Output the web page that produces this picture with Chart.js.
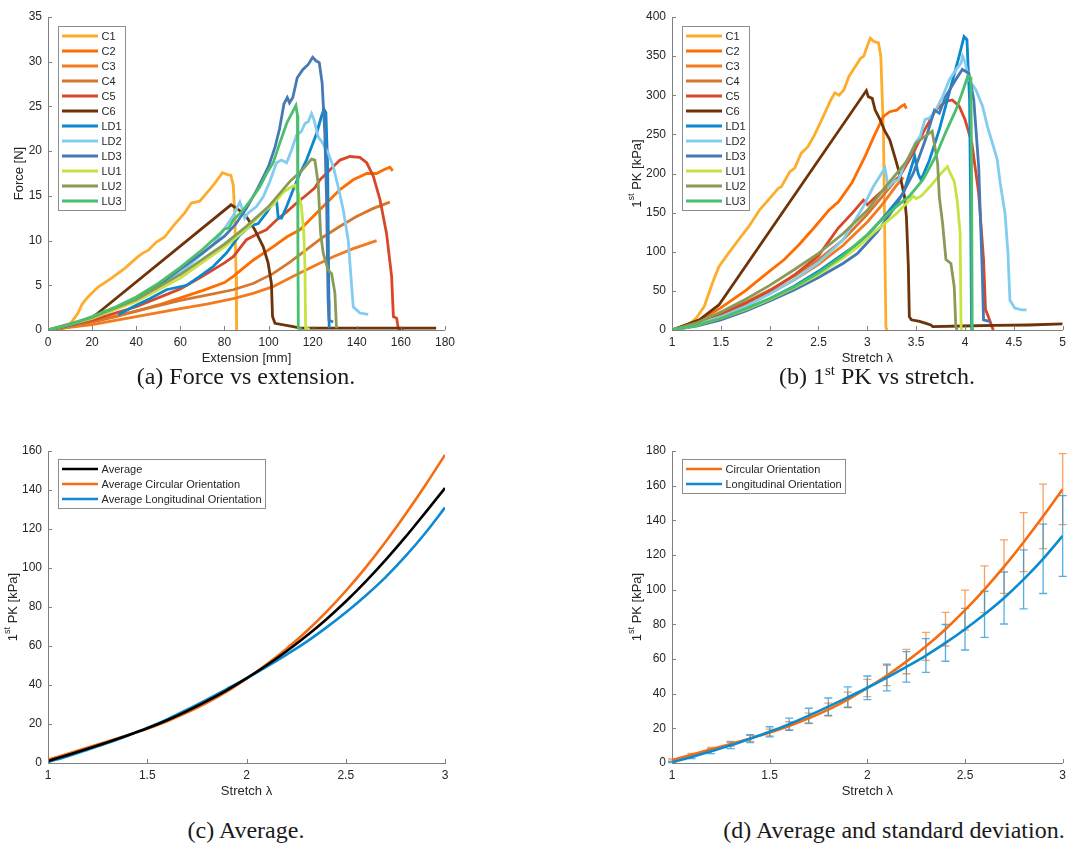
<!DOCTYPE html>
<html>
<head>
<meta charset="utf-8">
<script src="https://cdn.jsdelivr.net/npm/chart.js@4.4.1/dist/chart.umd.min.js"></script>
<style>
  html, body { margin: 0; padding: 0; background: #fff; }
  body { position: relative; width: 1071px; height: 849px; overflow: hidden; }
  canvas { position: absolute; }
  .cap {
    position: absolute; white-space: nowrap; transform: translateX(-50%);
    font-family: "Liberation Serif", "DejaVu Serif", serif; font-size: 24px;
    line-height: 28px; color: #1a1a1a;
  }
  .cap sup { font-size: 15px; line-height: 0; }
</style>
</head>
<body>
<canvas id="chartA" width="460" height="370" style="left:0;top:0"></canvas>
<canvas id="chartB" width="471" height="370" style="left:600px;top:0"></canvas>
<canvas id="chartC" width="460" height="373" style="left:0;top:430px"></canvas>
<canvas id="chartD" width="471" height="373" style="left:600px;top:430px"></canvas>

<div class="cap" style="left:246px;top:362px">(a) Force vs extension.</div>
<div class="cap" style="left:877px;top:362px">(b) 1<sup>st</sup> PK vs stretch.</div>
<div class="cap" style="left:246px;top:816px">(c) Average.</div>
<div class="cap" style="left:894px;top:816px">(d) Average and standard deviation.</div>

<script>
// ---- data -------------------------------------------------------------
const sampleNames = ['C1', 'C2', 'C3', 'C4', 'C5', 'C6', 'LD1', 'LD2', 'LD3', 'LU1', 'LU2', 'LU3'];

// (a) force [N] vs extension [mm], pairs [extension, force]
const forceC1 = [[0,0],[6,0.1],[9.1,0.4],[11,1],[13.6,1.9],[15.5,2.9],[18.1,3.7],[22.7,4.8],[28.8,5.8],[34.8,6.9],[40.8,8.2],[43,8.6],[45.4,8.9],[49,9.8],[52.9,10.4],[57,11.7],[62,13.1],[65,14.2],[68.8,14.4],[72.6,15.5],[75.6,16.4],[79.1,17.6],[81.7,17.35],[82.9,17.3],[84,16.2],[84.7,12.7],[85.3,6],[85.5,0]];
const forceC2 = [[0,0],[10,0.35],[20,0.9],[30,1.45],[40,2.1],[50,2.8],[60,3.6],[70,4.4],[80,5.3],[84,6],[93,7.8],[102,9.3],[108.2,10.4],[114.2,11.2],[120.2,12.7],[126.3,14.2],[132.4,15.7],[138.4,16.8],[144.5,17.5],[149,17.5],[152,17.9],[155,18.2],[156.3,17.8]];
const forceC3 = [[0,0],[20,0.6],[40,1.5],[60,2.4],[72,2.9],[84,3.5],[93,4.1],[102,4.85],[111.2,6],[120.2,7.1],[129.3,8.2],[138.4,9.1],[149,10]];
const forceC4 = [[0,0],[20,0.9],[40,2.1],[60,3.3],[72,3.9],[84,4.5],[93,5.2],[102,6.3],[109.7,7.6],[117.2,9],[124.8,10.4],[132.4,11.6],[139.9,12.7],[147.5,13.6],[155,14.3]];
const forceC5 = [[0,0],[20,1.1],[40,2.6],[60,4.6],[70,6],[80,7.5],[84,8.2],[90,10.1],[95.3,10.8],[99,11.2],[103.6,12.3],[108.2,13.2],[112.7,14.2],[117.2,15.1],[121,15.9],[123.3,16.8],[127.8,17.9],[132.4,19],[136.9,19.4],[141.4,19.3],[144.5,18.7],[147.5,17.2],[150.5,14.6],[153.5,10.8],[155.8,6],[156.6,1.5],[158.1,1.3],[158.8,0.2],[161,0]];
const forceC6 = [[0,0],[10,0.6],[20,1.4],[22.7,1.9],[83,14],[86.2,13.5],[89.9,12.7],[93.8,11.2],[97.6,9.3],[99.8,7.5],[101.3,5.2],[101.8,1.5],[102.9,0.75],[111.2,0.37],[114.2,0.2],[176,0.2]];
const forceLD1 = [[32,1.7],[38.6,2.6],[46.1,3.5],[53.7,4.5],[62.8,5],[68.8,6],[74.9,7.1],[80.9,8.6],[86.9,10.6],[91.5,11.6],[95.3,11.9],[99,13.1],[102,14.2],[103.6,14.6],[104.4,12.5],[105.9,12.5],[108.2,13.8],[111.2,15.7],[114.2,17.5],[117.2,19],[119.5,20.5],[121.8,22],[124,23.9],[125.1,24.7],[126,24.3],[126.8,18.3],[127.2,7.1],[127.5,0.2]];
const forceLD2 = [[0,0],[20,1.4],[40,3.5],[60,6.4],[75,9.6],[80,11.3],[84,12.8],[87,14.3],[88,13.6],[89.2,12.5],[90.8,13.1],[94.5,13.8],[97.6,14.9],[100.6,16.6],[103.6,18.7],[105.9,19],[108.2,18.7],[110.4,20.1],[112.7,21.8],[114.9,22.2],[116.5,23.1],[118,23.3],[119.5,24.2],[120.6,23.5],[122.5,21.6],[124,21.1],[127,19.8],[129.3,18.3],[131.6,16],[133.9,13.4],[136.1,10.1],[137.6,5.2],[138.4,2.6],[141.4,1.9],[145.2,1.75]];
const forceLD3 = [[0,0],[10,0.55],[20,1.35],[30,2.3],[40,3.5],[50,5],[60,6.8],[70,8.6],[80,10.5],[85,11.8],[90,13.6],[95,15.8],[100,18.3],[103,20.5],[105,22.5],[107,25.3],[108.5,26],[109.5,25.4],[111,26],[113,28.2],[115.5,29.1],[118,29.7],[120,30.5],[121.5,30.1],[123,29.9],[124.3,27.6],[125.5,22],[126.3,14.6],[127,3.4],[127.4,1.1],[129.3,0.9]];
const forceLU1 = [[0,0],[20,1.3],[40,3.2],[60,5.8],[80,9.3],[90,11.3],[97.6,13.2],[102.1,14],[106.6,15.4],[109.7,15.9],[112,16.2],[113.4,15.3],[114.9,13.8],[116,10.8],[116.5,7.1],[116.8,0.2],[118.7,0.1]];
const forceLU2 = [[0,0],[20,1.4],[40,3.4],[60,6.2],[80,9.6],[90,11.6],[100,13.8],[110,16.7],[115,17.8],[119.5,19.1],[121,19],[122.5,16.4],[123.6,10.8],[124.8,8.6],[127,6.7],[128.6,6.3],[130.1,4.1],[130.8,0.2]];
const forceLU3 = [[0,0],[10,0.6],[20,1.5],[30,2.5],[40,3.7],[50,5.2],[60,7],[70,9],[78,10.8],[80,11.3],[82,11.4],[84,12.3],[88.5,13.4],[93,14.9],[96,16],[99.1,17.5],[102.1,18.7],[105.1,20.9],[108.2,23.1],[110.5,24.2],[112.4,25.1],[113.1,24],[113.3,10],[113.5,0.2],[115,0.1]];

// (b) 1st PK [kPa] vs stretch, pairs [stretch, PK]
const pkC1 = [[1,0],[1.145,4],[1.246,15],[1.33,30],[1.414,60],[1.48,81],[1.566,96],[1.68,115],[1.785,132],[1.9,154],[2.02,171],[2.088,181],[2.12,183],[2.205,202],[2.256,207],[2.323,226],[2.39,234],[2.458,249],[2.542,271],[2.626,294],[2.667,303],[2.71,300],[2.761,307],[2.811,324],[2.879,337],[2.929,347],[2.963,350],[2.997,362],[3.03,373],[3.064,369],[3.114,367],[3.138,350],[3.165,252],[3.19,4],[3.2,0]];
const pkC2 = [[1,0],[1.25,10],[1.495,28],[1.75,50],[1.967,72],[2.15,90],[2.3,109],[2.45,130],[2.606,153],[2.707,164],[2.842,188],[2.977,222],[3.07,248],[3.165,273],[3.23,279],[3.3,281],[3.35,286],[3.38,288],[3.4,283]];
const pkC3 = [[1,0],[1.25,8],[1.5,19],[1.75,32],[2,47],[2.25,64],[2.5,84],[2.75,108],[3,138],[3.15,160],[3.3,185],[3.37,195]];
const pkC4 = [[1,0],[1.25,9],[1.5,21],[1.75,35],[2,51],[2.25,69],[2.5,90],[2.75,115],[3,148],[3.15,170],[3.28,190]];
const pkC5 = [[1,0],[1.25,8],[1.5,20],[1.75,34],[2,50],[2.25,70],[2.5,95],[2.7,130],[2.85,150],[2.96,166],[3,160],[3.1,172],[3.2,183],[3.33,196],[3.47,226],[3.57,252],[3.7,281],[3.8,292],[3.87,294],[3.94,286],[4,269],[4.07,239],[4.14,175],[4.19,90],[4.21,26],[4.24,17],[4.28,3],[4.29,0]];
const pkC6 = [[1,0],[1.28,13],[1.48,32],[2.99,306],[3.01,298],[3.05,296],[3.08,281],[3.13,269],[3.18,254],[3.23,243],[3.28,222],[3.33,200],[3.38,171],[3.4,145],[3.42,81],[3.43,17],[3.45,13],[3.535,11],[3.6,8.5],[3.65,6.4],[3.67,4.3],[3.97,5.1],[4.31,6],[4.65,6.4],[5,7.7]];
const pkLD1 = [[1,0],[1.25,6],[1.5,15],[1.75,27],[2,40],[2.25,56],[2.5,75],[2.75,97],[2.96,115],[3.2,149],[3.37,175],[3.485,222],[3.52,200],[3.55,192],[3.636,217],[3.737,256],[3.838,303],[3.94,350],[3.99,375],[4.02,371],[4.047,294],[4.057,166],[4.067,2],[4.07,0]];
const pkLD2 = [[1,0],[1.25,7],[1.5,17],[1.75,30],[2,46],[2.25,64],[2.5,86],[2.75,115],[2.96,158],[3.06,183],[3.18,207],[3.215,183],[3.27,190],[3.32,192],[3.37,209],[3.43,222],[3.49,239],[3.54,247],[3.59,269],[3.64,271],[3.7,281],[3.77,298],[3.84,320],[3.91,333],[3.96,341],[3.975,350],[4,343],[4.04,320],[4.11,307],[4.18,286],[4.23,260],[4.28,239],[4.33,218],[4.36,188],[4.41,149],[4.44,98],[4.46,38],[4.51,28],[4.58,25.6],[4.63,25.6]];
const pkLD3 = [[1,0],[1.25,5],[1.5,13],[1.75,24],[2,37],[2.25,51],[2.5,67],[2.75,85],[2.9,98],[3.1,125],[3.3,160],[3.47,200],[3.6,245],[3.687,281],[3.737,277],[3.8,298],[3.906,320],[3.973,333],[4.04,328],[4.09,294],[4.14,209],[4.175,81],[4.19,13],[4.26,10.7]];
const pkLU1 = [[1,0],[1.25,6],[1.5,15],[1.75,26],[2,39],[2.25,54],[2.5,71],[2.75,92],[2.9,106],[3.06,124],[3.3,149],[3.47,171],[3.5,168],[3.55,171],[3.64,183],[3.74,198],[3.82,209],[3.85,200],[3.89,190],[3.92,166],[3.95,124],[3.96,2],[3.97,0]];
const pkLU2 = [[1,0],[1.25,9],[1.5,23],[1.75,39],[2,57],[2.25,77],[2.5,98],[2.75,123],[3,153],[3.2,185],[3.4,215],[3.5,239],[3.664,254],[3.72,213],[3.737,170],[3.77,137],[3.805,90],[3.856,85],[3.89,55],[3.906,4],[3.92,0]];
const pkLU3 = [[1,0],[1.25,6],[1.5,15],[1.75,27],[2,40],[2.25,55],[2.5,73],[2.75,95],[3,122],[3.1,135],[3.2,147],[3.3,158],[3.43,171],[3.57,192],[3.7,222],[3.8,252],[3.906,281],[3.97,303],[4.03,325],[4.06,322],[4.067,209],[4.074,2],[4.08,0]];

// (c) and (d) averaged curves on a common stretch grid
const stretchGrid    = [1.0, 1.1, 1.2, 1.3, 1.4, 1.5, 1.6, 1.7, 1.8, 1.9, 2.0, 2.1, 2.2, 2.3, 2.4, 2.5, 2.6, 2.7, 2.8, 2.9, 3.0];
const pkAverage      = [1.0, 4.1, 7.3, 10.6, 14.1, 17.8, 21.9, 26.6, 31.7, 37.3, 43.4, 50.0, 57.2, 65.0, 73.5, 82.8, 93.0, 104.0, 115.8, 128.3, 141.0];
const pkCircular     = [1.7, 4.8, 7.9, 11.0, 14.2, 17.6, 21.4, 25.8, 30.8, 36.6, 43.3, 50.5, 58.5, 67.3, 77.2, 88.2, 100.2, 113.3, 127.4, 142.3, 158.0];
const pkLongitudinal = [0.5, 3.5, 6.8, 10.2, 14.0, 18.0, 22.4, 27.3, 32.5, 37.9, 43.4, 49.3, 55.5, 62.0, 69.3, 77.2, 85.8, 95.2, 105.9, 117.8, 131.0];
const sdCircular     = [0.6, 0.8, 1.1, 1.4, 1.7, 2.0, 2.4, 3.0, 3.7, 4.3, 5.0, 5.9, 7.0, 8.1, 9.7, 11.5, 13.5, 15.4, 17.0, 18.6, 20.5];
const sdLongitudinal = [0.3, 1.0, 1.4, 1.9, 2.3, 2.9, 3.5, 4.3, 5.0, 6.0, 6.8, 7.7, 8.8, 9.7, 10.6, 12.0, 13.3, 15.0, 17.0, 20.0, 23.3];

// tick labels
const extensionTicks = [0, 20, 40, 60, 80, 100, 120, 140, 160, 180];
const forceTicks = [0, 5, 10, 15, 20, 25, 30, 35];
const stretchTicksWide = [1, 1.5, 2, 2.5, 3, 3.5, 4, 4.5, 5];
const pkTicksWide = [0, 50, 100, 150, 200, 250, 300, 350, 400];
const stretchTicks = [1, 1.5, 2, 2.5, 3];
const pkTicksAvg = [0, 20, 40, 60, 80, 100, 120, 140, 160];
const pkTicksSd = [0, 20, 40, 60, 80, 100, 120, 140, 160, 180];

// ---- styling ----------------------------------------------------------
const FONT = '"Liberation Sans", Arial, Helvetica, sans-serif';
const AXIS = '#808080';
const TEXT = '#262626';
const sampleColors = ['#FDAD2C', '#FF6C00', '#F47A20', '#D5772F', '#D84828', '#6E3308',
                      '#0B89CE', '#82CDEF', '#4679B4', '#C6E440', '#8A9B58', '#4BBF6B'];
const ORANGE = '#F76C10';
const BLUE = '#0C8BD0';

const pkTitle = [{ t: '1' }, { t: 'st', sup: true }, { t: ' PK [kPa]' }];

// axis title with superscript, inward ticks, boxed legend
const decor = {
  id: 'decor',
  afterDraw(chart, args, opts) {
    const ctx = chart.ctx;
    const { left, top, bottom } = chart.chartArea;
    const xs = chart.scales.x, ys = chart.scales.y;
    ctx.save();

    ctx.strokeStyle = AXIS;
    ctx.lineWidth = 1;
    ctx.beginPath();
    xs.ticks.forEach(t => {
      const px = Math.round(xs.getPixelForValue(t.value)) + 0.5;
      ctx.moveTo(px, bottom); ctx.lineTo(px, bottom - 4);
    });
    ys.ticks.forEach(t => {
      const py = Math.round(ys.getPixelForValue(t.value)) + 0.5;
      ctx.moveTo(left, py); ctx.lineTo(left + 4, py);
    });
    ctx.stroke();

    // y title
    ctx.save();
    ctx.translate(opts.titleX, (top + bottom) / 2);
    ctx.rotate(-Math.PI / 2);
    const widths = opts.yTitle.map(p => {
      ctx.font = (p.sup ? 9 : 13) + 'px ' + FONT;
      return ctx.measureText(p.t).width;
    });
    let x = -widths.reduce((a, b) => a + b, 0) / 2;
    ctx.fillStyle = TEXT;
    ctx.textBaseline = 'middle';
    ctx.textAlign = 'left';
    opts.yTitle.forEach((p, i) => {
      ctx.font = (p.sup ? 9 : 13) + 'px ' + FONT;
      ctx.fillText(p.t, x, p.sup ? -5 : 0);
      x += widths[i];
    });
    ctx.restore();

    // legend
    const lg = opts.legend;
    const sets = chart.data.datasets;
    ctx.font = '11px ' + FONT;
    const textW = Math.max(...sets.map(d => ctx.measureText(d.label).width));
    const w = Math.round(43.5 + textW + 3.5);
    const h = Math.round(10 + 15 * (sets.length - 1) + 9);
    ctx.fillStyle = '#fff';
    ctx.fillRect(lg.x, lg.y, w, h);
    ctx.strokeStyle = '#8c8c8c';
    ctx.lineWidth = 1;
    ctx.strokeRect(lg.x + 0.5, lg.y + 0.5, w, h);
    sets.forEach((d, i) => {
      const cy = lg.y + 10 + 15 * i;
      ctx.strokeStyle = d.borderColor;
      ctx.lineWidth = lg.lw;
      ctx.beginPath();
      ctx.moveTo(lg.x + 4, cy); ctx.lineTo(lg.x + 40, cy);
      ctx.stroke();
      ctx.fillStyle = TEXT;
      ctx.textBaseline = 'middle';
      ctx.textAlign = 'left';
      ctx.fillText(d.label, lg.x + 43.5, cy + 0.5);
    });
    ctx.restore();
  }
};

const errorBars = {
  id: 'errorBars',
  beforeDatasetsDraw(chart, args, opts) {
    if (!opts.series) return;
    const ctx = chart.ctx, xs = chart.scales.x, ys = chart.scales.y;
    ctx.save();
    opts.series.forEach(s => {
      ctx.strokeStyle = s.color;
      ctx.lineWidth = 1.3;
      ctx.beginPath();
      s.x.forEach((xv, i) => {
        const px = xs.getPixelForValue(xv);
        const hi = ys.getPixelForValue(s.y[i] + s.sd[i]);
        const lo = ys.getPixelForValue(s.y[i] - s.sd[i]);
        ctx.moveTo(px, lo); ctx.lineTo(px, hi);
        ctx.moveTo(px - 4, lo); ctx.lineTo(px + 4, lo);
        ctx.moveTo(px - 4, hi); ctx.lineTo(px + 4, hi);
      });
      ctx.stroke();
    });
    ctx.restore();
  }
};

function tickFont() { return { family: FONT, size: 12 }; }

function makeOptions(cfg) {
  return {
    responsive: false,
    animation: false,
    devicePixelRatio: 1,
    layout: { padding: { left: 0, top: cfg.padTop, right: cfg.padRight, bottom: 0 } },
    plugins: {
      legend: { display: false },
      tooltip: { enabled: false },
      decor: { titleX: cfg.titleX, yTitle: cfg.yTitle, legend: cfg.legend },
      errorBars: { series: cfg.errorSeries }
    },
    scales: {
      x: {
        type: 'linear',
        min: cfg.xTicks[0], max: cfg.xTicks[cfg.xTicks.length - 1],
        afterBuildTicks: s => { s.ticks = cfg.xTicks.map(v => ({ value: v })); },
        afterFit: s => { s.height = 40; },
        ticks: { padding: 5, color: TEXT, font: tickFont(), autoSkip: false, maxRotation: 0,
                 callback: v => String(Math.round(v * 100) / 100) },
        grid: { drawOnChartArea: false, drawTicks: false },
        border: { color: AXIS, width: 1 },
        title: { display: true, text: cfg.xTitle, color: TEXT, font: { family: FONT, size: 13 },
                 padding: { top: 0, bottom: 3.5 } }
      },
      y: {
        type: 'linear',
        min: cfg.yTicks[0], max: cfg.yTicks[cfg.yTicks.length - 1],
        afterBuildTicks: s => { s.ticks = cfg.yTicks.map(v => ({ value: v })); },
        afterFit: s => { s.width = cfg.yWidth; },
        ticks: { padding: 6, color: TEXT, font: tickFont(), autoSkip: false,
                 callback: v => String(v) },
        grid: { drawOnChartArea: false, drawTicks: false },
        border: { color: AXIS, width: 1 },
        title: { display: false }
      }
    }
  };
}

function sampleSets(curves) {
  return curves.map((c, i) => ({
    label: sampleNames[i],
    data: c.map(([x, y]) => ({ x, y })),
    borderColor: sampleColors[i],
    borderWidth: 2.8,
    pointRadius: 0,
    tension: 0,
    order: curves.length - i
  }));
}

function gridSet(label, values, color, order) {
  return {
    label,
    data: stretchGrid.map((x, i) => ({ x, y: values[i] })),
    borderColor: color,
    borderWidth: 2.6,
    pointRadius: 0,
    cubicInterpolationMode: 'monotone',
    order
  };
}

new Chart(document.getElementById('chartA'), {
  type: 'line',
  data: { datasets: sampleSets([forceC1, forceC2, forceC3, forceC4, forceC5, forceC6,
                                forceLD1, forceLD2, forceLD3, forceLU1, forceLU2, forceLU3]) },
  options: makeOptions({
    padTop: 17, padRight: 15, yWidth: 48, titleX: 19,
    xTicks: extensionTicks, yTicks: forceTicks,
    xTitle: 'Extension [mm]', yTitle: [{ t: 'Force [N]' }],
    legend: { x: 58, y: 26, lw: 2.8 }
  }),
  plugins: [decor, errorBars]
});

new Chart(document.getElementById('chartB'), {
  type: 'line',
  data: { datasets: sampleSets([pkC1, pkC2, pkC3, pkC4, pkC5, pkC6,
                                pkLD1, pkLD2, pkLD3, pkLU1, pkLU2, pkLU3]) },
  options: makeOptions({
    padTop: 17, padRight: 3, yWidth: 72, titleX: 37,
    xTicks: stretchTicksWide, yTicks: pkTicksWide,
    xTitle: 'Stretch λ', yTitle: pkTitle,
    legend: { x: 82, y: 26, lw: 2.8 }
  }),
  plugins: [decor, errorBars]
});

new Chart(document.getElementById('chartC'), {
  type: 'line',
  data: { datasets: [
    gridSet('Average', pkAverage, '#000000', 1),
    gridSet('Average Circular Orientation', pkCircular, ORANGE, 3),
    gridSet('Average Longitudinal Orientation', pkLongitudinal, BLUE, 2)
  ] },
  options: makeOptions({
    padTop: 21, padRight: 15, yWidth: 48, titleX: 13,
    xTicks: stretchTicks, yTicks: pkTicksAvg,
    xTitle: 'Stretch λ', yTitle: pkTitle,
    legend: { x: 58, y: 29, lw: 2.6 }
  }),
  plugins: [decor, errorBars]
});

new Chart(document.getElementById('chartD'), {
  type: 'line',
  data: { datasets: [
    gridSet('Circular Orientation', pkCircular, ORANGE, 2),
    gridSet('Longitudinal Orientation', pkLongitudinal, BLUE, 1)
  ] },
  options: makeOptions({
    padTop: 21, padRight: 3, yWidth: 72, titleX: 37,
    xTicks: stretchTicks, yTicks: pkTicksSd,
    xTitle: 'Stretch λ', yTitle: pkTitle,
    legend: { x: 82, y: 29, lw: 2.6 },
    errorSeries: [
      { x: stretchGrid, y: pkCircular, sd: sdCircular, color: 'rgba(247,128,50,0.75)' },
      { x: stretchGrid, y: pkLongitudinal, sd: sdLongitudinal, color: 'rgba(30,150,215,0.75)' }
    ]
  }),
  plugins: [decor, errorBars]
});
</script>
</body>
</html>
